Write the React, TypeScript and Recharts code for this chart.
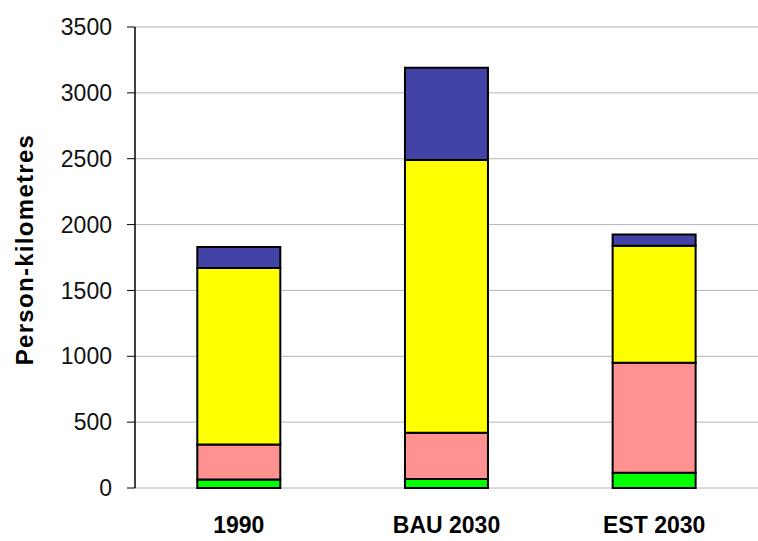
import React from 'react';
import { BarChart, Bar, XAxis, YAxis, CartesianGrid } from 'recharts';

const categories = ['1990', 'BAU 2030', 'EST 2030'];
const walkCycle = [65, 68, 115];
const publicTransport = [265, 352, 835];
const car = [1340, 2070, 890];
const air = [160, 700, 85];
const yTicks = [0, 500, 1000, 1500, 2000, 2500, 3000, 3500];

const chartData = categories.map((name, i) => ({
  name,
  pos: i + 0.5,
  walkCycle: walkCycle[i],
  publicTransport: publicTransport[i],
  car: car[i],
  air: air[i],
}));

const series = [
  { key: 'walkCycle', color: '#00FF00', name: 'Walking & cycling' },
  { key: 'publicTransport', color: '#FF9191', name: 'Public transport' },
  { key: 'car', color: '#FFFF00', name: 'Car' },
  { key: 'air', color: '#4343A5', name: 'Air' },
];

const font = '"Liberation Sans", Arial, sans-serif';

const YLabel = (props: any) => {
  const vb = props.viewBox || { y: 27, height: 461 };
  const cx = 24;
  const cy = vb.y + vb.height / 2 - 8;
  return (
    <text
      x={cx}
      y={cy}
      transform={`rotate(-90, ${cx}, ${cy})`}
      textAnchor="middle"
      dominantBaseline="central"
      fontFamily={font}
      fontWeight="bold"
      fontSize={24}
      letterSpacing={1.3}
      fill="#000"
    >
      Person-kilometres
    </text>
  );
};

export default function App() {
  return (
    <div style={{ width: 758, height: 541, background: '#fff' }}>
      <style>{'body{margin:0}'}</style>
      <BarChart
        width={758}
        height={541}
        data={chartData}
        margin={{ top: 27, right: 0, bottom: 0, left: 0 }}
        barCategoryGap="30%"
      >
        <CartesianGrid vertical={false} stroke="#b4b4b4" />
        <XAxis
          xAxisId="ticks"
          type="number"
          dataKey="pos"
          domain={[0, 3]}
          ticks={[0, 1, 2, 3]}
          height={0}
          tick={false}
          tickSize={7}
          tickLine={{ stroke: '#000' }}
          axisLine={{ stroke: '#000', strokeWidth: 1.5 }}
        />
        <XAxis
          dataKey="name"
          height={53}
          axisLine={false}
          tickLine={false}
          tickSize={0}
          tickMargin={29}
          tick={{ fontFamily: font, fontWeight: 'bold', fontSize: 23, fill: '#000' }}
        />
        <YAxis
          width={135}
          domain={[0, 3500]}
          ticks={yTicks}
          interval={0}
          tickSize={8}
          tickMargin={15}
          tickLine={{ stroke: '#000' }}
          axisLine={{ stroke: '#000', strokeWidth: 1.5 }}
          tick={{ fontFamily: font, fontSize: 23, fill: '#111' }}
          label={YLabel}
        />
        {series.map((s) => (
          <Bar
            key={s.key}
            dataKey={s.key}
            name={s.name}
            stackId="a"
            fill={s.color}
            stroke="#000"
            strokeWidth={2}
            isAnimationActive={false}
          />
        ))}
      </BarChart>
    </div>
  );
}
